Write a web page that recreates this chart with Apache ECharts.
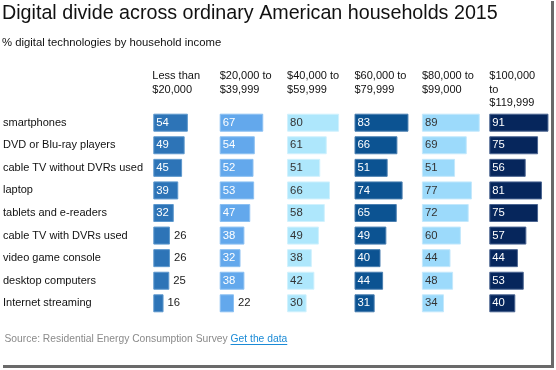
<!DOCTYPE html>
<html>
<head>
<meta charset="utf-8">
<script src="https://cdn.jsdelivr.net/npm/echarts@6/dist/echarts.min.js"></script>
<style>
html,body{margin:0;padding:0;background:#fff;}
#chart{width:556px;height:370px;}
</style>
</head>
<body>
<div id="chart"></div>
<script>
const titleText = 'Digital divide across ordinary American households 2015';
const subtitleText = '% digital technologies by household income';
const sourceText = 'Source: Residential Energy Consumption Survey';
const linkText = 'Get the data';
const categories = ['smartphones','DVD or Blu-ray players','cable TV without DVRs used','laptop','tablets and e-readers','cable TV with DVRs used','video game console','desktop computers','Internet streaming'];
const incomeGroups = ['Less than\n$20,000','$20,000 to\n$39,999','$40,000 to\n$59,999','$60,000 to\n$79,999','$80,000 to\n$99,000','$100,000\nto\n$119,999'];
const under20k = [54,49,45,39,32,26,26,25,16];
const from20k = [67,54,52,53,47,38,32,38,22];
const from40k = [80,61,51,66,58,49,38,42,30];
const from60k = [83,66,51,74,65,49,40,44,31];
const from80k = [89,69,51,77,72,60,44,48,34];
const from100k = [91,75,56,81,75,57,44,53,40];
const seriesValues = [under20k, from20k, from40k, from60k, from80k, from100k];

const colors = ['#2d74b7','#63a8ec','#aee7fc','#0c5392','#9cdafb','#06265c'];
const borders = ['#5d98cd','#8cc0f2','#d0f1fd','#4a7fb0','#c3e8fc','#4a6490'];
const labelColors = ['#fff','#fff','#333','#fff','#333','#fff'];

const chart = echarts.init(document.getElementById('chart'), null, {renderer:'canvas'});
const FONT = 'Liberation Sans, Arial, Helvetica, sans-serif';
const colLeft0 = 152.3, colStep = 67.4, colW = 65;
const gTop = 111.4, gH = 203.2;

const grids = [], xAxes = [], yAxes = [], series = [], titles = [];
titles.push({text: titleText, left: 2, top: 4, padding:0, textStyle:{fontFamily:FONT, fontSize:19.7, fontWeight:'normal', color:'#111'}});
titles.push({text: subtitleText, left: 2, top: 37, padding:0, textStyle:{fontFamily:FONT, fontSize:11.3, fontWeight:'normal', color:'#111'}});
seriesValues.forEach((vals, i) => {
  const left = colLeft0 + i*colStep;
  grids.push({left: left, top: gTop, width: colW, height: gH, containLabel:false});
  titles.push({text: incomeGroups[i], left: left, top: 69.3, padding:0, textStyle:{fontFamily:FONT, fontSize:11, fontWeight:'normal', color:'#111', lineHeight:13.5}});
  xAxes.push({type:'value', gridIndex:i, min:0, max:100, show:false});
  yAxes.push({type:'category', gridIndex:i, data:categories, inverse:true,
    axisLine:{show:false}, axisTick:{show:false}, splitLine:{show:false},
    axisLabel:{show: i===0, align:'left', margin: left-2, fontFamily:FONT, fontSize:11, color:'#111'}});
  series.push({type:'bar', xAxisIndex:i, yAxisIndex:i, barWidth:18, silent:true,
    itemStyle:{color:colors[i], borderColor:borders[i], borderWidth:1},
    data: vals.map(v => ({value:v, label: v < 28 ?
      {show:true, position:'right', distance:4, color:'#222'} :
      {show:true, position:'insideLeft', distance:3, color:labelColors[i]}})),
    label:{fontFamily:FONT, fontSize:11.3}
  });
});

// measure source text so the link follows it
const srcFont = '10.3px ' + FONT;
const ctx = document.createElement('canvas').getContext('2d');
ctx.font = srcFont;
const srcW = ctx.measureText(sourceText + ' ').width;
const linkW = ctx.measureText(linkText).width;
const srcX = 4.5, srcTop = 334;

chart.setOption({
  animation:false,
  backgroundColor:'#fff',
  title: titles,
  grid: grids, xAxis: xAxes, yAxis: yAxes, series: series,
  graphic: [
    {type:'rect', shape:{x:551, y:1, width:3, height:367}, style:{fill:'#6a6a6a'}, z:10},
    {type:'rect', shape:{x:3, y:365, width:551, height:3}, style:{fill:'#6a6a6a'}, z:10},
    {type:'text', x: srcX, y: srcTop, style:{text:sourceText, font:srcFont, fill:'#8a8a8a'}},
    {type:'text', x: srcX + srcW, y: srcTop, style:{text:linkText, font:srcFont, fill:'#1a8ad6'}},
    {type:'rect', shape:{x: srcX + srcW, y: srcTop + 10, width: linkW, height:1}, style:{fill:'#1a8ad6'}}
  ]
});
</script>
</body>
</html>
